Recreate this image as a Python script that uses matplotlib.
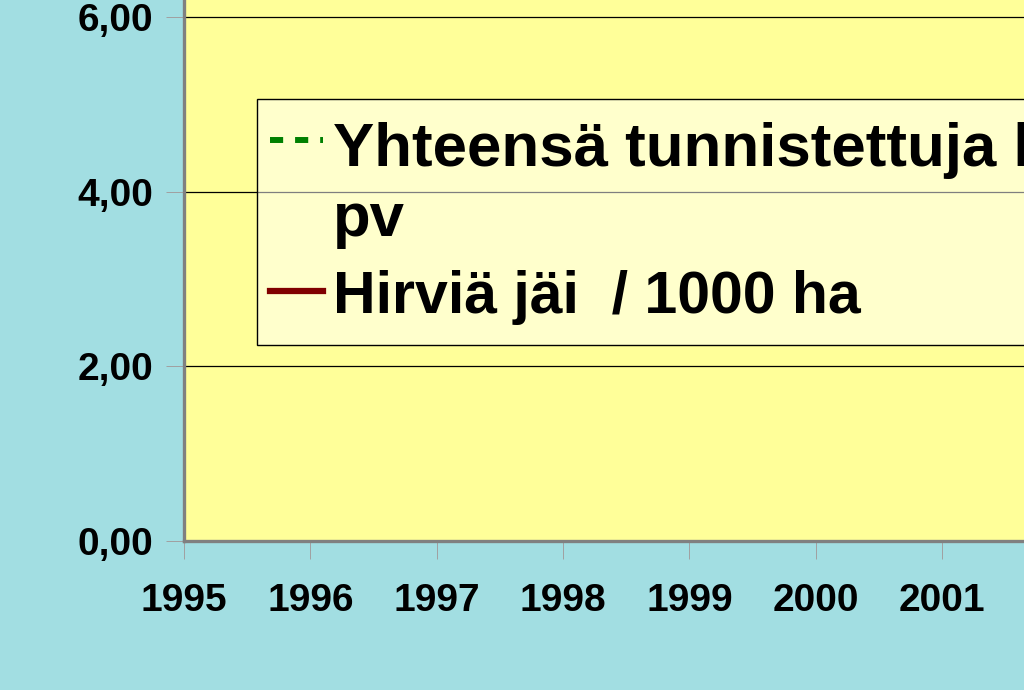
import matplotlib
matplotlib.use("Agg")
import matplotlib.pyplot as plt
from matplotlib.ticker import FuncFormatter
from matplotlib.patches import Rectangle
from matplotlib.lines import Line2D

# Data (no data points of either series are visible in the reference's region)
tick_years = [1995, 1996, 1997, 1998, 1999, 2000, 2001]
yticks = [0, 2, 4, 6]
series_names = ["Yhteensä tunnistettuja kpl / 1000", "pv", "Hirviä jäi  / 1000 ha"]
series1 = []  # not visible
series2 = []  # not visible

plt.rcParams['font.family'] = ['Liberation Sans', 'DejaVu Sans']
plt.rcParams['font.weight'] = 'bold'

W, H = 1024, 690
fig = plt.figure(figsize=(W / 100, H / 100), dpi=100)
fig.patch.set_facecolor('#A2DEE2')

px_year = 126.33
x0_px = 184
bottom_px = 541
ax = fig.add_axes([x0_px / W, (H - bottom_px) / H, 13 * px_year / W, bottom_px / H])
ax.set_facecolor('#FFFF99')
ax.set_xlim(1995, 2008)
ax.set_ylim(0, 541 / 87.33)

GREEN, RED = '#008000', '#800000'
ax.plot(series1, series1, color=GREEN, lw=4.3, linestyle=(0, (2.2, 2.0)))
ax.plot(series2, series2, color=RED, lw=4.5)

ax.set_xticks(tick_years)
ax.set_yticks(yticks)
ax.yaxis.set_major_formatter(FuncFormatter(lambda v, p: f"{v:.2f}".replace('.', ',')))
ax.grid(axis='y', color='black', lw=0.9)
ax.set_axisbelow(True)
for s in ['top', 'right']:
    ax.spines[s].set_visible(False)
for s in ['left', 'bottom']:
    ax.spines[s].set_color('#808080')
    ax.spines[s].set_linewidth(2.4)
ax.tick_params(axis='both', which='major', length=13, width=0.7, color='#A0A0A0',
               labelsize=28, pad=9)
ax.tick_params(axis='x', pad=17)
for lab in ax.get_xticklabels() + ax.get_yticklabels():
    lab.set_fontweight('bold')

# Legend (box extends past the right edge, as in the reference)
def fx(px):
    return px / W

def fy(py):
    return 1 - py / H

box = Rectangle((fx(257), fy(345)), fx(1200) - fx(257), fy(99) - fy(345),
                transform=fig.transFigure, facecolor=(1, 1, 1, 0.5),
                edgecolor='black', lw=1.0, zorder=5, clip_on=False)
fig.add_artist(box)
fig.add_artist(Line2D([fx(270), fx(323)], [fy(140), fy(140)], transform=fig.transFigure,
                      color=GREEN, lw=4.3, linestyle=(0, (2.2, 2.0)), zorder=6))
fig.add_artist(Line2D([fx(270), fx(323)], [fy(291), fy(291)], transform=fig.transFigure,
                      color=RED, lw=4.5, zorder=6))
for txt, yb, fs in zip(series_names, [166, 236, 313], [44.5, 44.5, 42.5]):
    fig.text(fx(333), fy(yb), txt, fontsize=fs, fontweight='bold', va='baseline',
             ha='left', zorder=7)

fig.savefig('out.png', dpi=100, facecolor=fig.get_facecolor())
